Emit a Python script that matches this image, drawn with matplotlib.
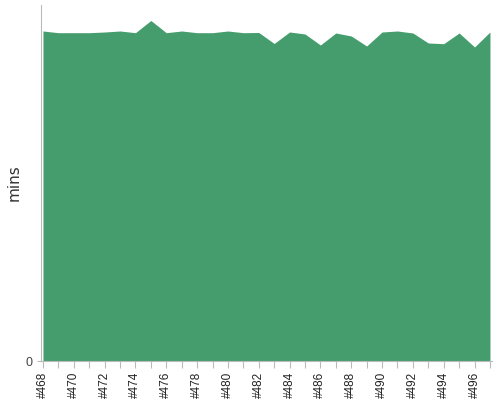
import numpy as np
import matplotlib
matplotlib.use("Agg")
import matplotlib.pyplot as plt

# build numbers and their durations (mins)
builds = list(range(468, 498))
mins = [33.0, 32.83, 32.83, 32.83, 32.9, 33.0, 32.83, 34.05, 32.83, 33.0,
        32.83, 32.83, 33.0, 32.83, 32.85, 31.75, 32.9, 32.7, 31.6, 32.8,
        32.5, 31.5, 32.9, 33.0, 32.8, 31.8, 31.73, 32.8, 31.4, 32.9]
tick_labels = ["#%d" % b for b in builds]

green = "#459d6d"
grey = "#bbbbbb"

fig = plt.figure(figsize=(5, 4), dpi=100)
ax = fig.add_axes([40.5 / 500, 39 / 400, 451 / 500, 356 / 400])

ax.fill_between(builds, mins, 0, color=green, linewidth=0)

ax.set_xlim(467.84, 497.1)
ax.set_ylim(0, 35.6)

ax.set_xticks(builds)
ax.set_xticklabels([t if i % 2 == 0 else "" for i, t in enumerate(tick_labels)],
                   rotation=90, fontsize=8.5, family="Liberation Sans", color="#222222")
ax.set_yticks([0])
ax.set_yticklabels(["0"], fontsize=9, family="Liberation Sans", color="#444444")

for s in ["top", "right"]:
    ax.spines[s].set_visible(False)
ax.spines["left"].set_color(grey)
ax.spines["bottom"].set_color(grey)
ax.tick_params(axis="x", length=5, color=grey, pad=3)
ax.tick_params(axis="y", length=3, color=grey, pad=3)

ax.set_ylabel("mins", fontsize=11, color="#333333")
ax.yaxis.set_label_coords(-0.041, 0.5)

fig.savefig("out.png")
